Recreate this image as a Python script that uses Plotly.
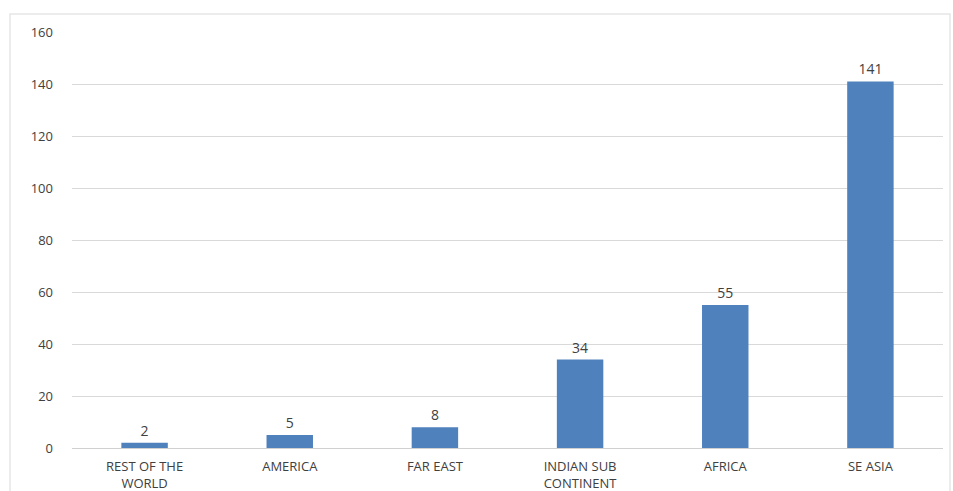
import plotly.graph_objects as go

categories = ["REST OF THE<br>WORLD", "AMERICA", "FAR EAST", "INDIAN SUB<br>CONTINENT", "AFRICA", "SE ASIA"]
values = [2, 5, 8, 34, 55, 141]
y_ticks = [0, 20, 40, 60, 80, 100, 120, 140, 160]

fig = go.Figure(go.Bar(
    x=categories, y=values,
    marker=dict(color="#4f81bd", line=dict(width=0)),
    text=[str(v) for v in values], textposition="outside",
    textfont=dict(family="Open Sans", size=14, color="#404040"),
    cliponaxis=False, width=0.32,
))

W, H = 953, 491
L, R, T, B = 72, 10, 32, 43
pw = W - L - R
ph = H - T - B
x0 = (10 - L) / pw
x1 = (950 - L) / pw
y1 = (H - B - 14) / ph

fig.update_layout(
    width=W, height=H,
    margin=dict(l=L, r=R, t=T, b=B, autoexpand=False),
    paper_bgcolor="white", plot_bgcolor="white",
    showlegend=False,
    font=dict(family="Open Sans", size=13, color="#595959"),
    xaxis=dict(showgrid=False, showline=False, tickfont=dict(size=13, color="#404040"),
               ticks="", ticklabelstandoff=9, automargin=False),
    yaxis=dict(range=[0, 160], tickvals=y_ticks, showgrid=True, gridcolor="#d9d9d9",
               gridwidth=1, zeroline=True, zerolinecolor="#d0d0d0", zerolinewidth=1,
               tickfont=dict(size=13, color="#404040"), ticklabelstandoff=18, automargin=False),
    shapes=[dict(type="rect", xref="paper", yref="paper", x0=x0, x1=x1, y0=-0.2, y1=y1,
                 line=dict(color="#e6e6e6", width=1.5), layer="below")],
)

fig.write_html("out.html")
